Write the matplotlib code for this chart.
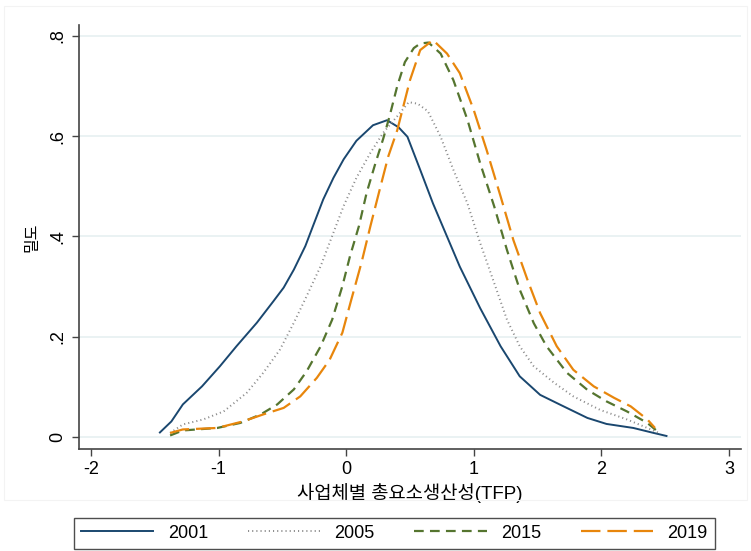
import matplotlib
matplotlib.use('Agg')
import matplotlib.pyplot as plt
from matplotlib.patches import Rectangle

plt.rcParams['font.family'] = ['Liberation Sans', 'Noto Sans CJK KR', 'DejaVu Sans']
plt.rcParams['lines.scale_dashes'] = False
plt.rcParams['axes.unicode_minus'] = False

# 커널 밀도 추정치
x_2001 = [-1.46, -1.37, -1.28, -1.13, -0.99, -0.86, -0.70, -0.57, -0.49, -0.41, -0.32, -0.26,
          -0.18, -0.10, -0.02, 0.08, 0.21, 0.32, 0.41, 0.48, 0.58, 0.68, 0.79, 0.89, 1.05,
          1.21, 1.36, 1.52, 1.68, 1.89, 2.04, 2.25, 2.41, 2.51]
y_2001 = [0.009, 0.031, 0.065, 0.101, 0.141, 0.181, 0.228, 0.271, 0.298, 0.334, 0.381, 0.421,
          0.474, 0.517, 0.554, 0.591, 0.622, 0.632, 0.618, 0.599, 0.533, 0.466, 0.400, 0.340, 0.257,
          0.181, 0.121, 0.084, 0.064, 0.038, 0.026, 0.018, 0.008, 0.002]

x_2005 = [-1.38, -1.28, -1.12, -0.96, -0.78, -0.65, -0.52, -0.41, -0.31, -0.20, -0.11, -0.02,
          0.08, 0.19, 0.29, 0.40, 0.49, 0.56, 0.64, 0.74, 0.84, 0.95, 1.05, 1.16, 1.26, 1.36,
          1.47, 1.63, 1.78, 1.99, 2.20, 2.36, 2.45]
y_2005 = [0.008, 0.025, 0.035, 0.051, 0.088, 0.128, 0.174, 0.228, 0.281, 0.341, 0.401, 0.461,
          0.517, 0.567, 0.607, 0.640, 0.668, 0.665, 0.650, 0.599, 0.533, 0.466, 0.387, 0.307,
          0.234, 0.181, 0.141, 0.108, 0.081, 0.054, 0.035, 0.018, 0.008]

x_2015 = [-1.38, -1.28, -1.01, -0.83, -0.67, -0.54, -0.41, -0.31, -0.20, -0.11, -0.03, 0.03,
          0.10, 0.16, 0.23, 0.29, 0.34, 0.40, 0.46, 0.53, 0.58, 0.645, 0.74, 0.84, 0.95, 1.05,
          1.16, 1.26, 1.36, 1.47, 1.57, 1.73, 1.89, 2.04, 2.20, 2.36, 2.44]
y_2015 = [0.003, 0.013, 0.018, 0.028, 0.045, 0.065, 0.095, 0.131, 0.181, 0.234, 0.301, 0.361,
          0.421, 0.487, 0.547, 0.595, 0.640, 0.700, 0.748, 0.776, 0.785, 0.787, 0.765, 0.712,
          0.633, 0.546, 0.460, 0.373, 0.294, 0.227, 0.181, 0.128, 0.094, 0.071, 0.051, 0.028, 0.011]

x_2019 = [-1.38, -1.28, -1.01, -0.81, -0.65, -0.49, -0.36, -0.23, -0.13, -0.03, 0.04, 0.12,
          0.19, 0.27, 0.33, 0.40, 0.50, 0.58, 0.68, 0.79, 0.89, 1.00, 1.10, 1.21, 1.31, 1.42,
          1.52, 1.65, 1.78, 1.94, 2.10, 2.23, 2.36, 2.42]
y_2019 = [0.008, 0.015, 0.018, 0.031, 0.045, 0.058, 0.081, 0.118, 0.154, 0.208, 0.274, 0.348,
          0.421, 0.501, 0.560, 0.612, 0.712, 0.772, 0.792, 0.765, 0.726, 0.652, 0.573, 0.480,
          0.393, 0.314, 0.247, 0.181, 0.134, 0.101, 0.078, 0.061, 0.035, 0.018]

years = ['2001', '2005', '2015', '2019']
x_ticks = [-2, -1, 0, 1, 2, 3]
y_ticks = [0, 0.2, 0.4, 0.6, 0.8]
y_tick_labels = ['0', '.2', '.4', '.6', '.8']

fig = plt.figure(figsize=(7.51, 5.51), dpi=100)
# 바깥 그래프 영역 테두리 (아주 옅게)
fig.patches.append(Rectangle((4 / 751, 1 - 500 / 551), 743 / 751, 494 / 551,
                             transform=fig.transFigure, fill=False,
                             edgecolor='#f3f3f3', linewidth=0.8))

ax = fig.add_axes([79 / 751, 1 - 449 / 551, 662 / 751, 424 / 551])

ax.plot(x_2001, y_2001, color='#1a476f', lw=1.4, label=years[0])
ax.plot(x_2005, y_2005, color='#8c8c8c', lw=1.4, linestyle=(0, (0.8, 2.2)), label=years[1])
ax.plot(x_2015, y_2015, color='#55752f', lw=1.6, linestyle=(0, (7, 4.5)), label=years[2])
ax.plot(x_2019, y_2019, color='#e8860c', lw=1.6, linestyle=(0, (14, 5)), label=years[3])

ax.set_xlim(-2.094, 3.094)
ax.set_ylim(-0.024, 0.822)
ax.set_xticks(x_ticks)
ax.set_yticks(y_ticks)
ax.set_yticklabels(y_tick_labels, rotation=90, va='center')
ax.tick_params(axis='both', labelsize=13, length=5, width=1, color='#444444', pad=4)

ax.grid(axis='y', color='#eaf2f3', linewidth=1.4)
ax.set_axisbelow(True)
for s in ['top', 'right']:
    ax.spines[s].set_visible(False)
for s in ['left', 'bottom']:
    ax.spines[s].set_color('#444444')
    ax.spines[s].set_linewidth(1.2)

ax.set_xlabel('사업체별 총요소생산성(TFP)', fontsize=13.5, labelpad=3)
ax.set_ylabel('밀도', fontsize=11.5, labelpad=7)

leg = fig.legend(loc='lower left', bbox_to_anchor=(74 / 751, 2 / 551, 641 / 751, 33 / 551),
                 mode='expand', ncol=4, fontsize=13, frameon=True, fancybox=False,
                 handlelength=4, handletextpad=0.8, borderaxespad=0, borderpad=0.4)
leg.get_frame().set_edgecolor('#222222')
leg.get_frame().set_linewidth(1.0)

fig.savefig('out.png', dpi=100)
